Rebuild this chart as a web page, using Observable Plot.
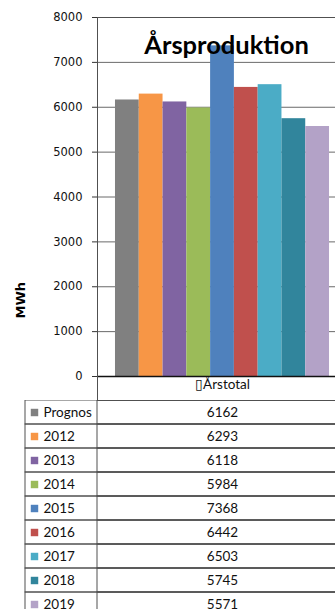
<!DOCTYPE html>
<html>
<head>
<meta charset="utf-8">
<script src="https://cdn.jsdelivr.net/npm/d3@7"></script>
<script src="https://cdn.jsdelivr.net/npm/@observablehq/plot@0.6"></script>
<style>
  html, body { margin: 0; padding: 0; background: #fff; overflow: hidden; }
  #wrap { width: 335px; height: 609px; overflow: hidden; }
  #wrap svg { display: block; }
</style>
</head>
<body>
<div id="wrap"></div>
<script>
const names = ["Prognos", "2012", "2013", "2014", "2015", "2016", "2017", "2018", "2019"];
const values = [6162, 6293, 6118, 5984, 7368, 6442, 6503, 5745, 5571];
const colors = ["#808080", "#F79646", "#8064A2", "#9BBB59", "#4F81BD", "#C0504D", "#4BACC6", "#31859C", "#B3A2C7"];
const yTicks = [0, 1000, 2000, 3000, 4000, 5000, 6000, 7000, 8000];
const title = "Årsproduktion";
const yLabel = "MWh";
const categoryLabel = "\u25AFÅrstotal";

const rows = names.map((name, i) => ({name, value: values[i]}));

const chart = Plot.plot({
  width: 350,
  height: 400,
  marginLeft: 97,
  marginRight: 3,
  marginTop: 17,
  marginBottom: 0,
  style: {maxWidth: "none", background: "white", overflow: "visible"},
  x: {domain: names, paddingInner: 0, paddingOuter: 0.756, round: false, axis: null},
  y: {domain: [0, 8000], range: [376, 17], axis: null},
  color: {domain: names, range: colors},
  marks: [
    Plot.gridY(yTicks, {stroke: "#6a6a6a", strokeOpacity: 1, strokeWidth: 1}),
    Plot.barY(rows, {x: "name", y: "value", fill: "name"}),
    Plot.ruleY([0], {stroke: "#111", strokeWidth: 1.5}),
    Plot.frame({stroke: "#505050", strokeWidth: 1}),
    Plot.axisY(yTicks, {
      tickSize: 5, tickPadding: 10, stroke: "#333",
      fontFamily: "DejaVu Sans", fontSize: 11.5, fill: "#111",
      tickFormat: d => String(d), label: null
    }),
    Plot.text([title], {
      frameAnchor: "top", lineAnchor: "bottom", dy: 36, dx: 4,
      fontFamily: "Lato", fontWeight: "bold", fontSize: 25.5, fill: "#000"
    }),
    Plot.text([yLabel], {
      frameAnchor: "bottom-left", rotate: -90, dx: -73, dy: -82,
      fontFamily: "DejaVu Sans", fontWeight: "bold", fontSize: 13, fill: "#000"
    }),
    Plot.text([categoryLabel], {
      frameAnchor: "bottom", dy: -12,
      fontFamily: "Lato", fontSize: 13.5, fill: "#111"
    })
  ]
});

const table = Plot.plot({
  width: 350,
  height: 216,
  marginLeft: 25,
  marginRight: 3,
  marginTop: 0,
  marginBottom: 0,
  style: {maxWidth: "none", background: "white"},
  y: {domain: names, range: [0, 216], paddingInner: 0, paddingOuter: 0, round: false, axis: null},
  color: {domain: names, range: colors},
  marks: [
    Plot.cell(rows, {y: "name", fill: "none", stroke: "#505050", inset: 0}),
    Plot.cell(rows, {y: "name", fill: "none", stroke: "#505050", insetTop: 0, insetBottom: 0, insetRight: 0, insetLeft: 72}),
    Plot.dot(rows, {y: "name", fill: "name", symbol: "square", r: 4.2, frameAnchor: "left", dx: 9, stroke: null}),
    Plot.text(rows, {y: "name", text: "name", frameAnchor: "left", dx: 18, textAnchor: "start",
      fontFamily: "Lato", fontSize: 13.5, fill: "#111"}),
    Plot.text(rows, {y: "name", text: d => String(d.value), frameAnchor: "middle", dx: 36,
      fontFamily: "Lato", fontSize: 13.5, fill: "#111"})
  ]
});

const wrap = document.getElementById("wrap");
wrap.appendChild(chart);
wrap.appendChild(table);
</script>
</body>
</html>
